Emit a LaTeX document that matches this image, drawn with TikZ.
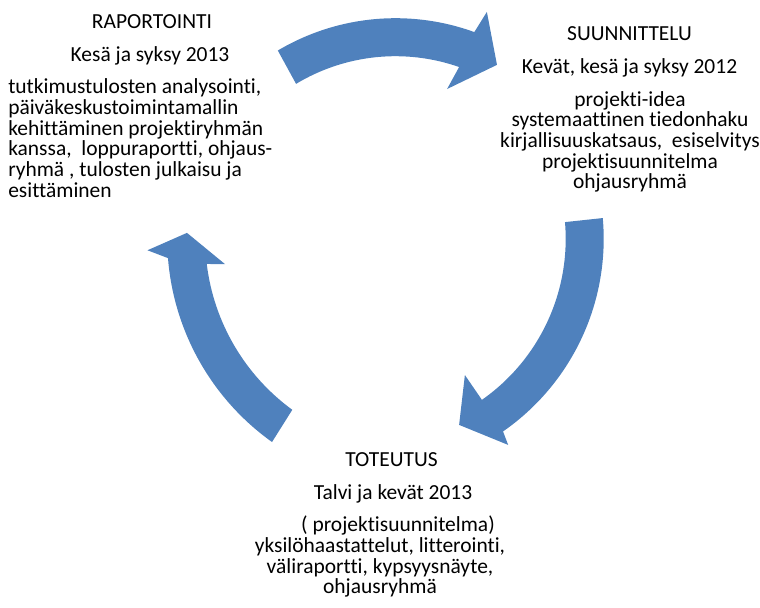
\documentclass[tikz,border=0pt]{standalone}
\usepackage{fontspec}
\setmainfont{Carlito}[Ligatures=NoCommon]
\definecolor{cycleblue}{RGB}{79,129,189}
\tikzset{cyclearrow/.style={fill=cycleblue},
         phase/.style={inner sep=0pt, anchor=base, font=\fontsize{16.1}{15.5}\selectfont},
         phasetext/.style={phase, align=center}}

\begin{document}
\begin{tikzpicture}[x=0.75pt,y=0.75pt]
        \useasboundingbox (0,0) rectangle (760,607);
        % nuolet
        \begin{scope}[shift={(395.5,358.3)}]
        \fill[cyclearrow](120.7:230.5)arc[start angle=120.7,end angle=70,radius=230.5]--(68.9:253.8)--(61.1:210)--(72.1:167.8)--(70.7:192.5)arc[start angle=70.7,end angle=121.1,radius=192.5]--cycle;
        \end{scope}
        \begin{scope}[shift={(369.2,368.1)}]
        \fill[cyclearrow](5.1:234.5)arc[start angle=5.1,end angle=-55.2,radius=234.5]--(-56:248.5)--(-64.2:206.6)--(-54.9:166.4)--(-55:196.5)arc[start angle=-55,end angle=4.9,radius=196.5]--cycle;
        \end{scope}
        \begin{scope}[shift={(417.2,368.5)}]
        \fill[cyclearrow](234.5:250)arc[start angle=234.5,end angle=184.5,radius=250]--(182.5:270)--(178.6:230.3)--(187.6:193.9)--(186.9:212)arc[start angle=186.9,end angle=233.9,radius=212]--cycle;
        \end{scope}

        % raportointi (base = viimeinen rivi)
        \node[phase](raportointi)at(152,578){RAPORTOINTI};
        \node[phase](raportointiaika)at(150,545){Kesä ja syksy 2013};
        \node[phase,align=left,anchor=base west](raportointisisalto)at(8,409.7){tutkimustulosten analysointi,\\päiväkeskustoimintamallin\\kehittäminen projektiryhmän\\kanssa, \ loppuraportti, ohjaus-\\ryhmä , tulosten julkaisu ja\\esittäminen};

        % suunnittelu
        \node[phase](suunnittelu)at(629.5,566.3){SUUNNITTELU};
        \node[phase](suunnitteluaika)at(629.5,533.7){Kevät, kesä ja syksy 2012};
        \node[phasetext](suunnittelusisalto)at(630,418.3){projekti-idea\\systemaattinen tiedonhaku\\kirjallisuuskatsaus, \ esiselvitys\\projektisuunnitelma\\ohjausryhmä};

        % toteutus
        \node[phase](toteutus)at(391.5,140.3){TOTEUTUS};
        \node[phase](toteutusaika)at(393,108){Talvi ja kevät 2013};
        \node[phasetext](toteutussisalto)at(380,13.3){\hspace*{27pt}( projektisuunnitelma)\\yksilöhaastattelut, litterointi,\\väliraportti, kypsyysnäyte,\\ohjausryhmä};
    \end{tikzpicture}
\end{document}
